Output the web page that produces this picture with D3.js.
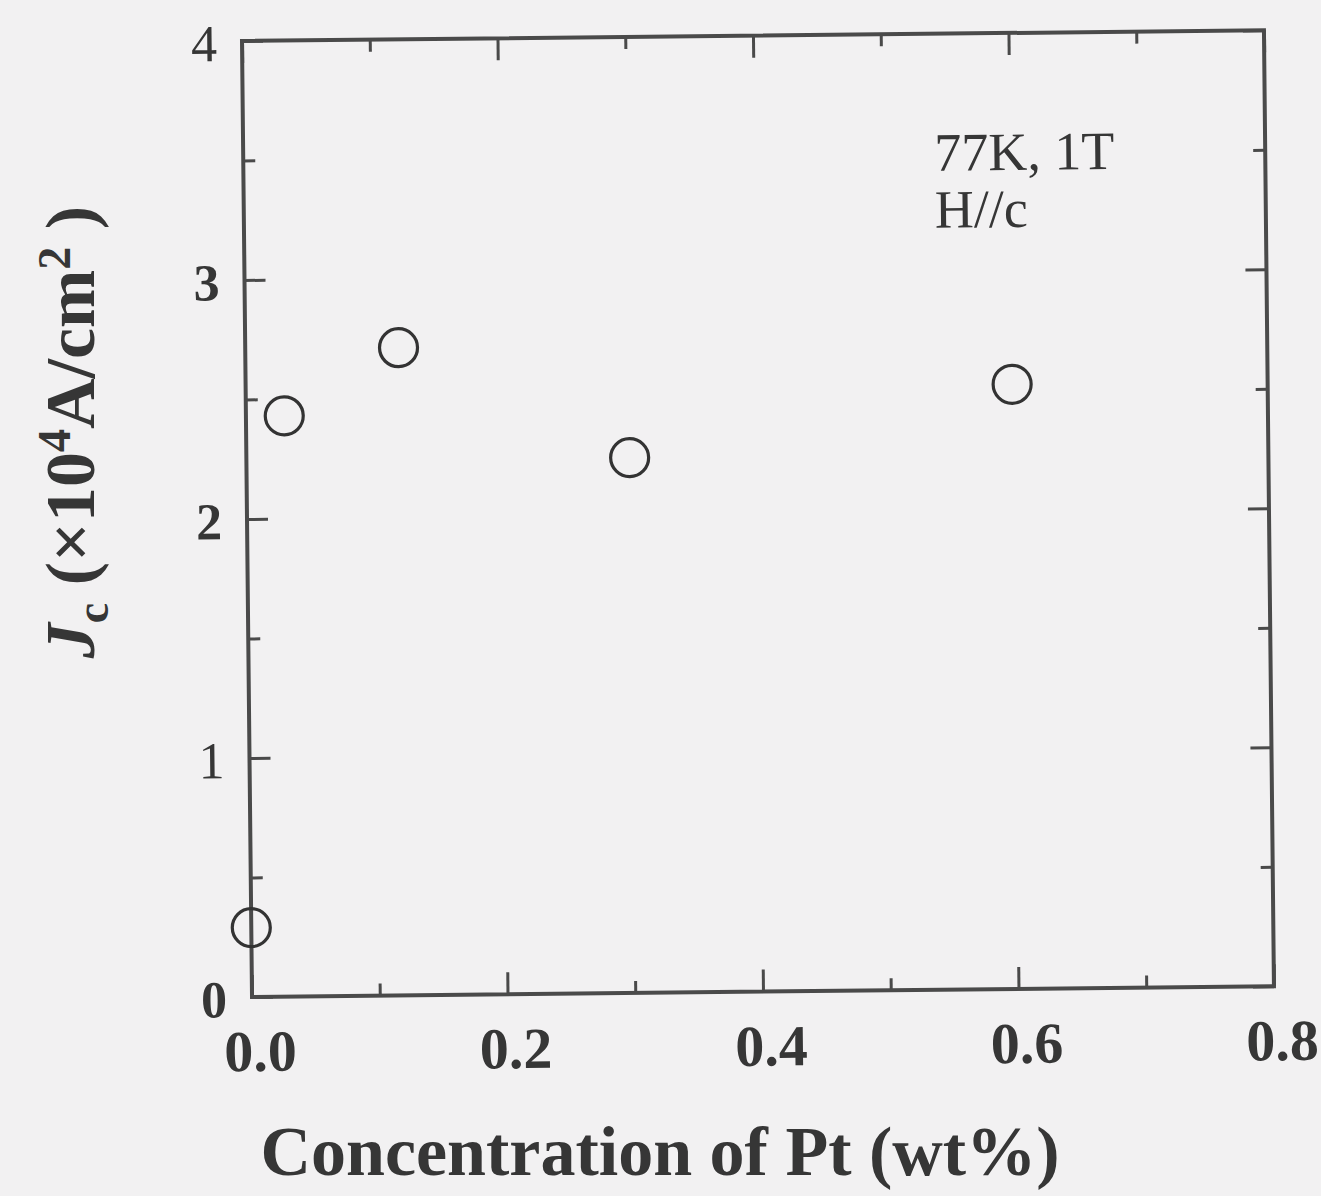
<!DOCTYPE html>
<html>
<head>
<meta charset="utf-8">
<script src="https://cdn.jsdelivr.net/npm/d3@7"></script>
<style>
  body { margin: 0; background: #f2f1f2; }
  text { font-family: "Liberation Serif", "Times New Roman", serif; fill: #363636; }
</style>
</head>
<body>
<script>
// data
var ptConc = [0.0, 0.03, 0.12, 0.30, 0.60];        // wt%
var jcValues = [0.29, 2.43, 2.71, 2.24, 2.53];     // x10^4 A/cm2
var xMajor = [0, 0.2, 0.4, 0.6, 0.8];
var xMinor = [0.1, 0.3, 0.5, 0.7];
var yMajor = [0, 1, 2, 3, 4];
var yMinor = [0.5, 1.5, 2.5, 3.5];
var noteLines = ["77K, 1T", "H//c"];

var data = ptConc.map(function(d, i) { return {x: d, y: jcValues[i]}; });

var width = 1321, height = 1196;
// plot frame (the scan is slightly tilted)
var frame = {left: 242, top: 41, w: 1022, h: 956, tilt: -0.6};
var axisColor = "#4a4a4a";

var svg = d3.select("body").append("svg")
    .attr("width", width)
    .attr("height", height);

svg.append("rect").attr("width", width).attr("height", height).attr("fill", "#f2f1f2");

var g = svg.append("g")
    .attr("transform", "translate(" + frame.left + "," + frame.top + ") rotate(" + frame.tilt + ")");

var x = d3.scaleLinear().domain([0, 0.8]).range([0, frame.w]);
var y = d3.scaleLinear().domain([0, 4]).range([frame.h, 0]);

// ticks pointing inward on all four sides
function ticks(axis, vals, size, tr) {
  var a = g.append("g")
      .attr("transform", tr || null)
      .call(axis.tickValues(vals).tickSizeInner(-size).tickSizeOuter(0).tickFormat(""));
  a.select(".domain").remove();
  a.selectAll("line").attr("stroke", axisColor).attr("stroke-width", 3);
  return a;
}
ticks(d3.axisBottom(x), xMajor, 22, "translate(0," + frame.h + ")");
ticks(d3.axisBottom(x), xMinor, 12, "translate(0," + frame.h + ")");
ticks(d3.axisTop(x), xMajor, 22);
ticks(d3.axisTop(x), xMinor, 12);
ticks(d3.axisLeft(y), yMajor, 21);
ticks(d3.axisLeft(y), yMinor, 12);
ticks(d3.axisRight(y), yMajor, 21, "translate(" + frame.w + ",0)");
ticks(d3.axisRight(y), yMinor, 12, "translate(" + frame.w + ",0)");

// frame
g.append("rect")
    .attr("width", frame.w)
    .attr("height", frame.h)
    .attr("fill", "none")
    .attr("stroke", axisColor)
    .attr("stroke-width", 4);

// tick labels
g.selectAll(".xlab")
  .data(xMajor)
  .enter().append("text")
    .attr("x", function(d) { return x(d) + 8; })
    .attr("y", frame.h + 74)
    .attr("text-anchor", "middle")
    .style("font-size", "58px")
    .style("font-weight", "bold")
    .text(function(d) { return d3.format(".1f")(d); });

g.selectAll(".ylab")
  .data(yMajor)
  .enter().append("text")
    .attr("x", -25)
    .attr("y", function(d) { return y(d) + 20; })
    .attr("text-anchor", "end")
    .style("font-size", "52px")
    .style("font-weight", function(d) { return (d === 1 || d === 4) ? "normal" : "bold"; })
    .text(function(d) { return d; });

// points
g.selectAll("circle")
  .data(data)
  .enter().append("circle")
    .attr("cx", function(d) { return x(d.x); })
    .attr("cy", function(d) { return y(d.y); })
    .attr("r", 19)
    .attr("fill", "none")
    .attr("stroke", "#333")
    .attr("stroke-width", 3.2);

// annotation
g.selectAll(".note")
  .data(noteLines)
  .enter().append("text")
    .attr("x", 691)
    .attr("y", function(d, i) { return 137 + i * 57; })
    .style("font-size", "54px")
    .text(function(d) { return d; });

// x axis title
svg.append("text")
    .attr("x", 660)
    .attr("y", 1175)
    .attr("text-anchor", "middle")
    .style("font-size", "70px")
    .style("font-weight", "bold")
    .text("Concentration of Pt (wt%)");

// y axis title
var yt = svg.append("text")
    .attr("transform", "translate(94,432) rotate(-90)")
    .attr("text-anchor", "middle")
    .style("font-size", "70px")
    .style("font-weight", "bold");
yt.append("tspan").style("font-style", "italic").text("J");
yt.append("tspan").attr("dy", 14).style("font-size", "46px").text("c");
yt.append("tspan").attr("dy", -14).text(" (\u00d710");
yt.append("tspan").attr("dy", -24).style("font-size", "46px").text("4");
yt.append("tspan").attr("dy", 24).text("A/cm");
yt.append("tspan").attr("dy", -24).style("font-size", "46px").text("2");
yt.append("tspan").attr("dy", 24).text(" )");
</script>
</body>
</html>
